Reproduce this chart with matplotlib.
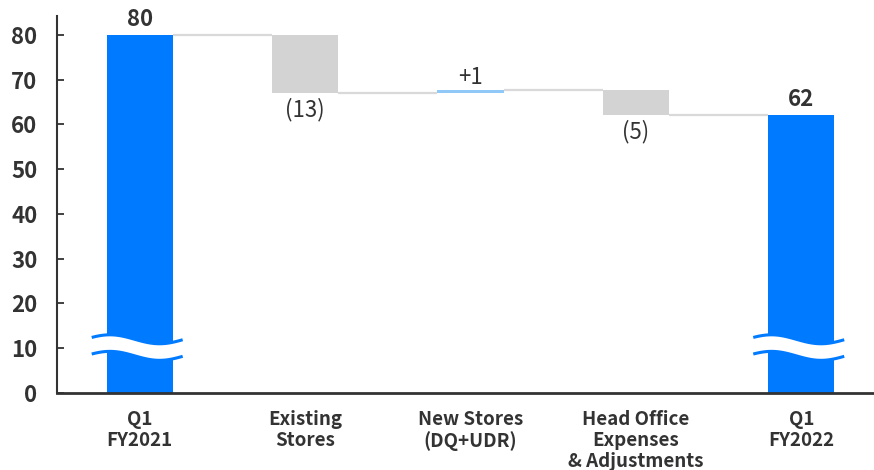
import numpy as np
import matplotlib.pyplot as plt

plt.rcParams["font.family"] = ["Noto Sans CJK JP", "DejaVu Sans"]

categories = ["Q1\nFY2021", "Existing\nStores", "New Stores\n(DQ+UDR)",
              "Head Office\nExpenses\n& Adjustments", "Q1\nFY2022"]
start_value = 80.0
deltas = [-13.0, 0.7, -5.6]
end_value = 62.1
value_labels = ["80", "(13)", "+1", "(5)", "62"]

INK = "#333333"
BLUE = "#007BFF"
LIGHT_BLUE = "#90C8F8"
GRAY = "#D3D3D3"
LINE = "#D9D9D9"

fig = plt.figure(figsize=(8.74, 4.70), dpi=100)
ax = fig.add_axes([0.0652, 0.1638, 0.9348, 0.8022])

x = np.arange(len(categories))
w = 0.4

# waterfall geometry
levels = [start_value]
for d in deltas:
    levels.append(levels[-1] + d)
bottoms = [0.0]
heights = [start_value]
colors = [BLUE]
for i, d in enumerate(deltas):
    lo = min(levels[i], levels[i + 1])
    bottoms.append(lo)
    heights.append(abs(d))
    colors.append(LIGHT_BLUE if d > 0 else GRAY)
bottoms.append(0.0)
heights.append(end_value)
colors.append(BLUE)

ax.bar(x, heights, w, bottom=bottoms, color=colors, zorder=2)

# connectors
for i in range(len(x) - 1):
    lvl = levels[i]
    ax.plot([x[i] + w / 2, x[i + 1] - w / 2], [lvl, lvl], color=LINE,
            lw=1.6, zorder=1, solid_capstyle="butt")

# value labels
for i, lab in enumerate(value_labels):
    top = bottoms[i] + heights[i]
    if i in (0, len(x) - 1):
        ax.text(x[i], top + 0.8, lab, ha="center", va="bottom", fontsize=16,
                weight="bold", color=INK)
    elif deltas[i - 1] > 0:
        ax.text(x[i], top + 0.2, lab, ha="center", va="bottom", fontsize=16,
                color=INK)
    else:
        ax.text(x[i], bottoms[i] - 1.1, lab, ha="center", va="top", fontsize=16,
                color=INK)

# axis break marks on the total bars
for xi in (x[0], x[-1]):
    xs = np.linspace(xi - 0.29, xi + 0.26, 80)
    wave = 1.0 * np.cos((xs - (xi - 0.18)) / 0.30 * np.pi)
    upper = 12.0 + wave
    lower = 8.3 + wave
    ax.fill_between(xs, lower, upper, color="white", zorder=3, lw=0)
    ax.plot(xs, upper, color=BLUE, lw=2.2, zorder=4, solid_capstyle="butt")
    ax.plot(xs, lower, color=BLUE, lw=2.2, zorder=4, solid_capstyle="butt")

ax.set_xlim(-0.5, 4.44)
ax.set_ylim(0, 84.2)
ax.set_yticks(range(0, 81, 10))
ax.set_xticks(x)
ax.set_xticklabels(categories, fontsize=13.5, weight="bold", color=INK,
                   linespacing=1.15)
ax.tick_params(axis="x", length=0, pad=12)
ax.tick_params(axis="y", direction="in", length=5, width=1.3, color=INK,
               pad=14, labelsize=16, labelcolor=INK)
for lab in ax.get_yticklabels():
    lab.set_fontweight("bold")

for side in ("top", "right"):
    ax.spines[side].set_visible(False)
ax.spines["left"].set_color(INK)
ax.spines["left"].set_linewidth(1.5)
ax.spines["bottom"].set_color(INK)
ax.spines["bottom"].set_linewidth(2.0)

fig.savefig("out.png", dpi=100)
